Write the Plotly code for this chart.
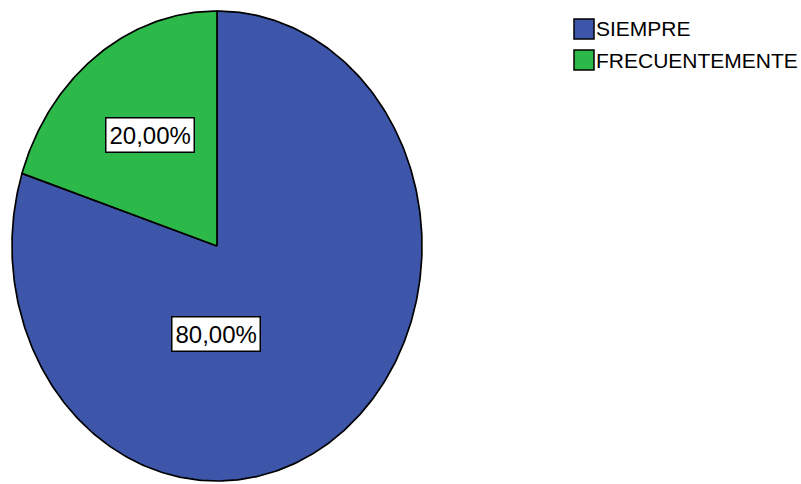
import numpy as np
import plotly.graph_objects as go

# Response categories and their shares (%)
categories = ["SIEMPRE", "FRECUENTEMENTE"]
percentages = [80.0, 20.0]
colors = ["#3D56A9", "#2DB84A"]

# Label anchor for each slice, in unit-ellipse coordinates
label_anchor = [(-0.005, -0.374), (-0.327, 0.472)]

W, H = 801, 484
CX, CY = 217, 246        # pie centre in pixels
RX, RY = 205, 235        # pie radii in pixels
PAD = 1.01               # axis padding so the outline is not clipped

FONT = "Liberation Sans, Arial, sans-serif"

fig = go.Figure()

# Slices drawn clockwise from 12 o'clock
bounds = np.concatenate([[0.0], np.cumsum(percentages)]) / sum(percentages) * 2 * np.pi
for name, col, t0, t1 in zip(categories, colors, bounds[:-1], bounds[1:]):
    n = max(int((t1 - t0) / (2 * np.pi) * 400), 8)
    t = np.linspace(t0, t1, n)
    xs = np.concatenate([[0.0], np.sin(t), [0.0]])
    ys = np.concatenate([[0.0], np.cos(t), [0.0]])
    fig.add_trace(go.Scatter(
        x=xs, y=ys, mode="lines", fill="toself", fillcolor=col,
        line=dict(color="black", width=1.7), name=name,
        hoverinfo="name", showlegend=False,
    ))

# Percentage labels
for pct, (lx, ly) in zip(percentages, label_anchor):
    fig.add_annotation(
        x=lx, y=ly, xref="x", yref="y", showarrow=False,
        text=f"{pct:.2f}".replace(".", ",") + "%",
        font=dict(family=FONT, size=24, color="black"),
        bgcolor="white", bordercolor="black", borderwidth=1.5, borderpad=3,
    )

# Legend: coloured squares with category names
legend_rows = [29, 60]
for name, col, yc in zip(categories, colors, legend_rows):
    fig.add_shape(
        type="rect", xref="paper", yref="paper",
        x0=574 / W, x1=594 / W,
        y0=1 - (yc + 10) / H, y1=1 - (yc - 10) / H,
        fillcolor=col, line=dict(color="black", width=1.5),
    )
    fig.add_annotation(
        x=594 / W, y=1 - yc / H, xref="paper", yref="paper",
        xanchor="left", yanchor="middle", showarrow=False, text=name,
        font=dict(family=FONT, size=21, color="black"),
    )

fig.update_xaxes(
    range=[-PAD, PAD], visible=False, fixedrange=True,
    domain=[(CX - RX * PAD) / W, (CX + RX * PAD) / W],
)
fig.update_yaxes(
    range=[-PAD, PAD], visible=False, fixedrange=True,
    domain=[1 - (CY + RY * PAD) / H, 1 - (CY - RY * PAD) / H],
)
fig.update_layout(
    width=W, height=H, margin=dict(l=0, r=0, t=0, b=0),
    paper_bgcolor="white", plot_bgcolor="white", showlegend=False,
)

fig.write_html("out.html")
